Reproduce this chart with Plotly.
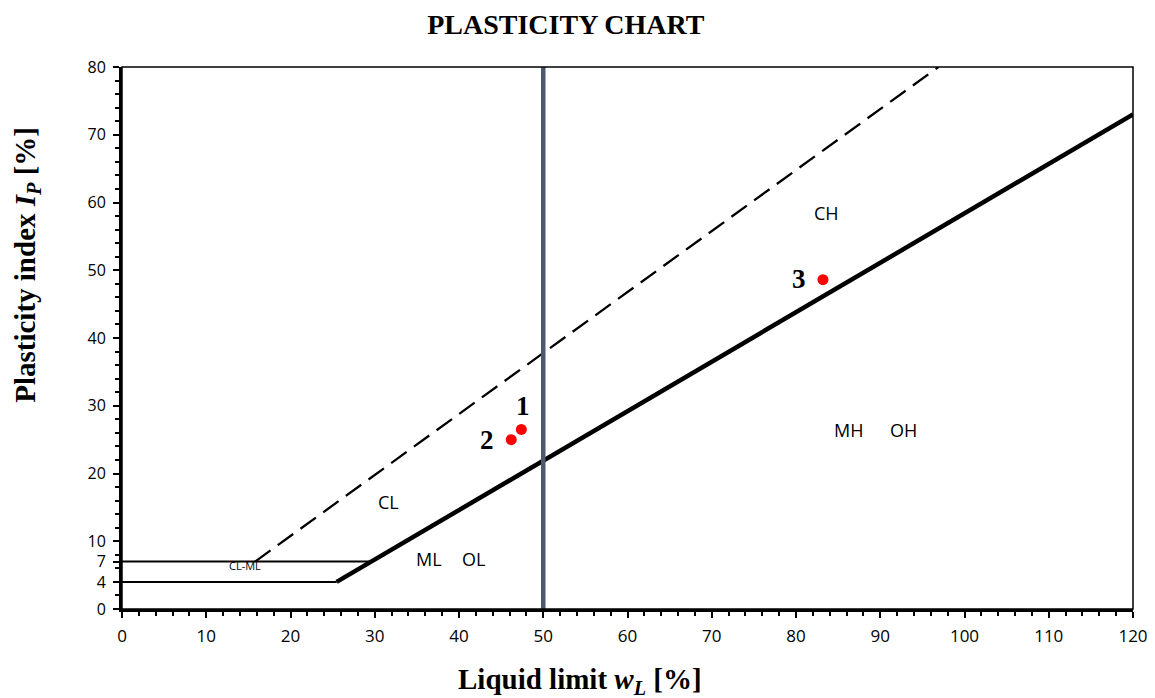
import plotly.graph_objects as go

# data
a_line_wl = [25.48, 120]
a_line_ip = [4, 73]
u_line_wl = [15.8, 96.9]
u_line_ip = [7, 80]
h4_wl = [0, 25.48]
h4_ip = [4, 4]
h7_wl = [0, 29.6]
h7_ip = [7, 7]
v_wl = [50, 50]
v_ip = [0, 80]
sample_names = ["1", "2", "3"]
sample_wl = [47.4, 46.2, 83.2]
sample_ip = [26.5, 25.0, 48.6]
sample_label_wl = [47.6, 43.3, 80.4]
sample_label_ip = [30.0, 24.9, 48.7]
zone_names = ["CH", "MH", "OH", "CL", "ML", "OL"]
zone_wl = [83.6, 86.2, 92.7, 31.6, 36.4, 41.7]
zone_ip = [58.4, 26.4, 26.4, 15.8, 7.4, 7.4]
y_ticks = [0, 4, 7, 10, 20, 30, 40, 50, 60, 70, 80]
x_ticks = list(range(0, 121, 10))

fig = go.Figure()
fig.add_trace(go.Scatter(x=h4_wl, y=h4_ip, mode="lines", line=dict(color="black", width=2)))
fig.add_trace(go.Scatter(x=h7_wl, y=h7_ip, mode="lines", line=dict(color="black", width=2)))
fig.add_trace(go.Scatter(x=u_line_wl, y=u_line_ip, mode="lines",
                         line=dict(color="black", width=2.3, dash="19px,9px")))
fig.add_trace(go.Scatter(x=a_line_wl, y=a_line_ip, mode="lines", line=dict(color="black", width=4.5)))
fig.add_trace(go.Scatter(x=v_wl, y=v_ip, mode="lines", line=dict(color="#4d5a6e", width=4.5)))
fig.add_trace(go.Scatter(x=sample_wl, y=sample_ip, mode="markers",
                         marker=dict(color="#ff0000", size=11)))

for n, x, y in zip(sample_names, sample_label_wl, sample_label_ip):
    fig.add_annotation(x=x, y=y, text="<b>" + n + "</b>", showarrow=False,
                       font=dict(family="Liberation Serif", size=27, color="black"))
for n, x, y in zip(zone_names, zone_wl, zone_ip):
    fig.add_annotation(x=x, y=y, text=n, showarrow=False,
                       font=dict(family="Open Sans", size=18, color="black"))
fig.add_annotation(x=14.6, y=6.4, text="CL-ML", showarrow=False,
                   font=dict(family="Open Sans", size=11, color="black"))

fig.add_annotation(xref="paper", yref="paper", x=0.453, y=-0.132, yanchor="middle",
                   text="<b>Liquid limit <i>w<sub>L</sub></i> [%]</b>", showarrow=False,
                   font=dict(family="Liberation Serif", size=29, color="black"))
fig.add_annotation(xref="paper", yref="paper", x=-0.094, y=0.635, xanchor="center",
                   text="<b>Plasticity index <i>I<sub>P</sub></i> [%]</b>", showarrow=False,
                   textangle=-90,
                   font=dict(family="Liberation Serif", size=29, color="black"))
fig.add_shape(type="rect", xref="paper", yref="paper", x0=0, y0=0, x1=1, y1=1,
              line=dict(color="black", width=1.5), layer="above")

fig.update_layout(
    width=1155, height=698,
    margin=dict(l=114, r=30, t=59, b=97),
    paper_bgcolor="white", plot_bgcolor="white",
    showlegend=False,
    title=dict(text="<b>PLASTICITY CHART</b>", x=0.483, xanchor="center",
               y=0.977, yanchor="middle",
               font=dict(family="Liberation Serif", size=28, color="black")),
    xaxis=dict(range=[0, 120], tickvals=x_ticks, showgrid=False, zeroline=False,
               showline=True, linecolor="black", linewidth=3,
               ticks="outside", ticklen=6, tickwidth=2, tickcolor="black",
               ticklabelstandoff=4,
               minor=dict(dtick=2, ticks="outside", ticklen=4, tickwidth=2, tickcolor="black"),
               tickfont=dict(family="Open Sans", size=17, color="black")),
    yaxis=dict(range=[0, 80], tickvals=y_ticks, showgrid=False, zeroline=False,
               showline=True, linecolor="black", linewidth=3,
               ticks="outside", ticklen=6, tickwidth=2, tickcolor="black",
               ticklabelstandoff=4,
               minor=dict(tick0=0, dtick=2, ticks="outside", ticklen=4, tickwidth=2, tickcolor="black"),
               tickfont=dict(family="Open Sans", size=16, color="black")),
)
fig.write_html("out.html")
